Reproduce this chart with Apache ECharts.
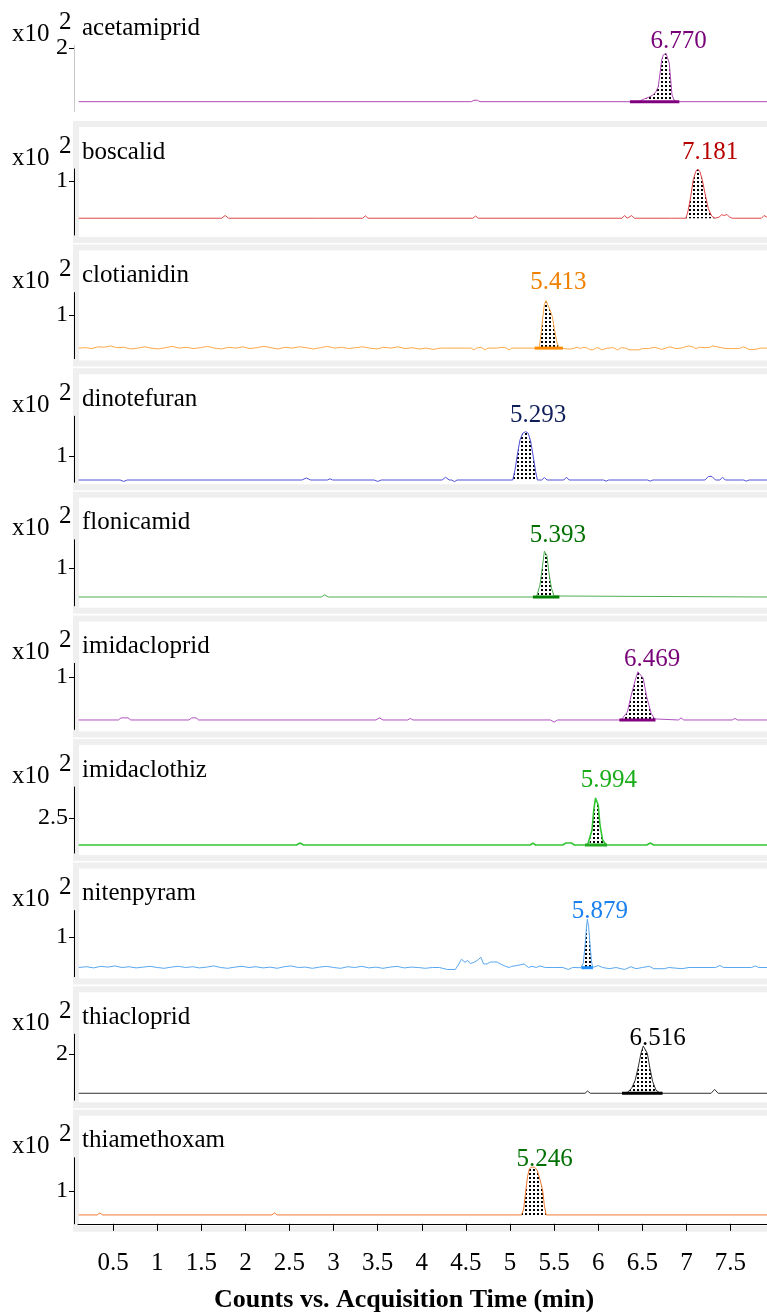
<!DOCTYPE html>
<html><head><meta charset="utf-8">
<script src="https://cdn.jsdelivr.net/npm/echarts@6/dist/echarts.min.js"></script>
<style>html,body{margin:0;padding:0;background:#fff}#c{width:767px;height:1312px}</style>
</head><body><div id="c"></div>
<script>
// ---------- data ----------
const compounds = ['acetamiprid','boscalid','clotianidin','dinotefuran','flonicamid','imidacloprid','imidaclothiz','nitenpyram','thiacloprid','thiamethoxam'];
const retentionLabels = ['6.770','7.181','5.413','5.293','5.393','6.469','5.994','5.879','6.516','5.246'];
const yTickValues = [2, 1, 1, 1, 1, 1, 2.5, 1, 2, 1];
const yAxisMax = [2.08, 1.22, 1.51, 2.52, 1.75, 1.26, 4.71, 1.67, 2.86, 2.01];
const baselines = [0.306, 0.31, 0.24, 0.084, 0.233, 0.18, 0.57, 0.225, 0.30, 0.27];
const fillStart = [6.45, 6.99, 5.33, 5.03, 5.31, 6.28, 5.90, 5.83, 6.32, 5.13];
const fillEnd   = [6.89, 7.33, 5.56, 5.31, 5.50, 6.64, 6.09, 5.94, 6.70, 5.41];
const barStart  = [6.36, null, 5.28, null, 5.26, 6.24, 5.85, 5.81, 6.27, null];
const barEnd    = [6.92, null, 5.60, null, 5.56, 6.65, 6.10, 5.94, 6.73, null];
const xTickValues = [0.5, 1, 1.5, 2, 2.5, 3, 3.5, 4, 4.5, 5, 5.5, 6, 6.5, 7, 7.5];
const xRange = [0.102, 7.914];

const acetamipridTrace = [[0.11,0.306],[4.56,0.306],[4.59,0.35],[4.63,0.35],[4.66,0.306],[6.455,0.306],[6.511,0.38],[6.568,0.44],[6.618,0.51],[6.655,0.62],[6.681,0.78],[6.701,1.20],[6.720,1.62],[6.738,1.78],[6.769,1.83],[6.788,1.80],[6.806,1.52],[6.822,0.99],[6.837,0.52],[6.859,0.36],[6.890,0.306],[7.914,0.306]];
const boscalidTrace = [[0.11,0.31],[1.73,0.31],[1.77,0.36],[1.81,0.31],[2.79,0.31],[2.81,0.345],[2.83,0.31],[3.33,0.31],[3.36,0.355],[3.39,0.31],[4.58,0.31],[4.61,0.35],[4.64,0.31],[6.27,0.31],[6.30,0.36],[6.33,0.31],[6.35,0.31],[6.38,0.36],[6.41,0.31],[6.83,0.31],[6.85,0.345],[6.87,0.31],[6.995,0.31],[7.021,0.46],[7.049,0.71],[7.078,1.02],[7.105,1.17],[7.128,1.22],[7.154,1.17],[7.180,1.02],[7.211,0.77],[7.248,0.49],[7.287,0.35],[7.324,0.31],[7.37,0.33],[7.40,0.375],[7.43,0.36],[7.46,0.38],[7.49,0.33],[7.52,0.31],[7.85,0.31],[7.88,0.36],[7.914,0.33]];
const clotianidinTrace = [[0.11,0.24],[0.19,0.25],[0.26,0.23],[0.33,0.27],[0.40,0.26],[0.47,0.29],[0.54,0.25],[0.62,0.26],[0.70,0.22],[0.78,0.24],[0.86,0.27],[0.93,0.24],[1.01,0.22],[1.09,0.25],[1.17,0.28],[1.25,0.24],[1.33,0.26],[1.41,0.23],[1.49,0.25],[1.57,0.28],[1.65,0.24],[1.73,0.22],[1.81,0.26],[1.89,0.24],[1.97,0.27],[2.05,0.23],[2.13,0.25],[2.21,0.28],[2.29,0.25],[2.37,0.22],[2.45,0.26],[2.53,0.24],[2.61,0.27],[2.69,0.25],[2.77,0.22],[2.85,0.25],[2.93,0.28],[3.01,0.24],[3.09,0.26],[3.17,0.23],[3.25,0.25],[3.33,0.27],[3.41,0.24],[3.49,0.22],[3.57,0.26],[3.65,0.24],[3.73,0.27],[3.81,0.23],[3.89,0.25],[3.97,0.22],[4.05,0.24],[4.13,0.21],[4.21,0.24],[4.33,0.24],[4.50,0.24],[4.56,0.24],[4.59,0.20],[4.62,0.24],[4.64,0.26],[4.67,0.26],[4.69,0.24],[4.72,0.20],[4.75,0.24],[4.85,0.24],[4.92,0.26],[4.96,0.24],[4.99,0.20],[5.02,0.24],[5.30,0.24],[5.332,0.26],[5.351,0.54],[5.371,0.92],[5.389,1.23],[5.408,1.33],[5.427,1.31],[5.454,1.11],[5.480,0.96],[5.502,0.69],[5.529,0.39],[5.552,0.26],[5.58,0.24],[5.65,0.22],[5.70,0.22],[5.73,0.24],[5.76,0.26],[5.80,0.23],[5.83,0.26],[5.88,0.24],[5.91,0.20],[5.94,0.20],[5.98,0.25],[6.01,0.24],[6.04,0.20],[6.10,0.24],[6.17,0.25],[6.22,0.20],[6.26,0.25],[6.31,0.24],[6.35,0.20],[6.46,0.20],[6.50,0.23],[6.57,0.23],[6.64,0.26],[6.72,0.21],[6.81,0.27],[6.88,0.23],[6.94,0.24],[6.97,0.26],[7.03,0.29],[7.08,0.26],[7.11,0.23],[7.15,0.26],[7.22,0.25],[7.27,0.26],[7.30,0.29],[7.37,0.26],[7.45,0.23],[7.52,0.23],[7.60,0.23],[7.65,0.27],[7.71,0.21],[7.78,0.21],[7.84,0.24],[7.914,0.24]];
const dinotefuranTrace = [[0.11,0.084],[0.58,0.084],[0.62,0.03],[0.66,0.084],[2.64,0.084],[2.69,0.16],[2.74,0.084],[2.93,0.084],[2.96,0.13],[2.99,0.084],[3.46,0.084],[3.50,0.03],[3.54,0.084],[4.23,0.084],[4.27,0.19],[4.31,0.084],[4.34,0.084],[4.37,0.02],[4.40,0.084],[5.031,0.084],[5.057,0.47],[5.083,1.04],[5.113,1.61],[5.144,1.87],[5.178,1.93],[5.207,1.87],[5.235,1.55],[5.264,0.97],[5.291,0.40],[5.310,0.084],[5.36,0.084],[5.39,0.18],[5.42,0.084],[5.61,0.084],[5.64,0.19],[5.67,0.084],[6.06,0.084],[6.09,0.04],[6.12,0.084],[6.56,0.084],[6.59,0.04],[6.62,0.084],[7.21,0.084],[7.25,0.22],[7.27,0.18],[7.29,0.22],[7.33,0.084],[7.38,0.084],[7.41,0.19],[7.44,0.084],[7.65,0.084],[7.68,0.04],[7.71,0.084],[7.914,0.084]];
const flonicamidTrace = [[0.11,0.233],[2.86,0.233],[2.90,0.29],[2.94,0.233],[5.30,0.233],[5.31,0.26],[5.34,0.55],[5.37,1.08],[5.39,1.45],[5.40,1.50],[5.42,1.32],[5.44,0.89],[5.47,0.47],[5.50,0.26],[5.52,0.233],[7.914,0.233]];
const imidaclopridTrace = [[0.11,0.18],[0.56,0.18],[0.59,0.22],[0.67,0.22],[0.70,0.18],[1.36,0.18],[1.39,0.22],[1.44,0.22],[1.47,0.18],[3.48,0.18],[3.52,0.22],[3.56,0.18],[3.84,0.18],[3.87,0.21],[3.90,0.18],[5.46,0.18],[5.50,0.14],[5.54,0.18],[6.26,0.18],[6.28,0.20],[6.33,0.33],[6.37,0.62],[6.42,0.94],[6.45,1.10],[6.47,1.11],[6.51,0.98],[6.55,0.62],[6.60,0.31],[6.64,0.20],[6.66,0.18],[6.91,0.18],[6.94,0.22],[6.97,0.18],[7.52,0.18],[7.55,0.21],[7.58,0.18],[7.914,0.18]];
const imidaclothizTrace = [[0.11,0.57],[2.58,0.57],[2.62,0.71],[2.66,0.57],[5.23,0.57],[5.26,0.71],[5.29,0.57],[5.60,0.57],[5.63,0.71],[5.70,0.71],[5.73,0.57],[5.88,0.57],[5.90,0.64],[5.93,1.64],[5.95,3.07],[5.97,3.93],[5.98,4.0],[6.00,3.43],[6.02,2.0],[6.05,0.93],[6.09,0.57],[6.55,0.57],[6.59,0.71],[6.63,0.57],[7.914,0.57]];
const nitenpyramTrace = [[0.11,0.23],[0.2,0.25],[0.28,0.22],[0.36,0.26],[0.44,0.24],[0.52,0.27],[0.6,0.23],[0.68,0.25],[0.76,0.22],[0.84,0.24],[0.92,0.26],[1.0,0.23],[1.08,0.21],[1.16,0.24],[1.24,0.26],[1.32,0.23],[1.4,0.25],[1.48,0.22],[1.56,0.24],[1.64,0.27],[1.72,0.23],[1.8,0.21],[1.88,0.24],[1.96,0.26],[2.04,0.23],[2.12,0.25],[2.2,0.22],[2.28,0.24],[2.36,0.21],[2.44,0.25],[2.52,0.27],[2.6,0.23],[2.68,0.24],[2.76,0.21],[2.84,0.24],[2.92,0.26],[3.0,0.23],[3.08,0.21],[3.16,0.25],[3.24,0.23],[3.32,0.26],[3.40,0.22],[3.48,0.24],[3.56,0.21],[3.64,0.24],[3.72,0.26],[3.8,0.22],[3.88,0.24],[3.96,0.23],[4.04,0.21],[4.12,0.23],[4.20,0.23],[4.29,0.18],[4.38,0.18],[4.42,0.32],[4.45,0.44],[4.49,0.36],[4.52,0.41],[4.55,0.33],[4.59,0.36],[4.63,0.41],[4.67,0.49],[4.70,0.32],[4.74,0.32],[4.78,0.37],[4.85,0.37],[4.91,0.30],[4.95,0.26],[4.99,0.23],[5.02,0.26],[5.08,0.28],[5.16,0.32],[5.21,0.23],[5.25,0.26],[5.30,0.23],[5.34,0.27],[5.40,0.23],[5.49,0.23],[5.60,0.23],[5.66,0.18],[5.71,0.23],[5.805,0.225],[5.831,0.34],[5.850,0.76],[5.865,1.18],[5.877,1.45],[5.892,1.26],[5.907,0.84],[5.922,0.42],[5.937,0.23],[6.0,0.28],[6.05,0.23],[6.13,0.20],[6.20,0.23],[6.30,0.18],[6.37,0.25],[6.43,0.20],[6.50,0.23],[6.58,0.26],[6.63,0.20],[6.75,0.20],[6.80,0.23],[6.95,0.20],[7.03,0.23],[7.33,0.23],[7.38,0.28],[7.42,0.23],[7.74,0.23],[7.78,0.27],[7.82,0.23],[7.914,0.23]];
const thiaclopridTrace = [[0.11,0.30],[5.85,0.30],[5.88,0.40],[5.91,0.30],[6.32,0.30],[6.38,0.52],[6.42,0.87],[6.455,1.45],[6.485,2.03],[6.511,2.35],[6.531,2.36],[6.557,2.03],[6.587,1.38],[6.618,0.80],[6.655,0.44],[6.70,0.30],[7.28,0.30],[7.32,0.47],[7.36,0.30],[7.914,0.30]];
const thiamethoxamTrace = [[0.11,0.27],[0.32,0.27],[0.35,0.33],[0.38,0.27],[2.30,0.27],[2.33,0.33],[2.36,0.27],[5.13,0.27],[5.155,0.45],[5.18,1.03],[5.20,1.45],[5.22,1.68],[5.25,1.73],[5.28,1.72],[5.31,1.62],[5.34,1.35],[5.37,1.03],[5.39,0.55],[5.41,0.27],[7.914,0.27]];
const traces = [acetamipridTrace, boscalidTrace, clotianidinTrace, dinotefuranTrace, flonicamidTrace, imidaclopridTrace, imidaclothizTrace, nitenpyramTrace, thiaclopridTrace, thiamethoxamTrace];

// ---------- styles / layout ----------
const lineColors  = ['#b04cb8','#e04848','#ffa84a','#5050d8','#4caf50','#b050c0','#33c633','#5aa8f0','#333333','#f07a30'];
const labelColors = ['#780078','#b80000','#f08000','#101f5a','#007000','#780078','#1aad1a','#1a80f0','#000000','#007000'];
const barColors   = ['#800080',null,'#ff8c00',null,'#008000','#800080','#22aa22','#1e90ff','#000000',null];
const lineWidths  = [1,1,1,1,1,1,1.6,1,1,1];
const labelGaps   = [4, 9, 10, 9, 6, 4, 9, 0, 0, 0];
const PANEL0 = -2.6, STEP = 123.6, GTOP = 48, GH = 66, GLEFT = 78;
const FONT = '"Liberation Serif", "Times New Roman", serif';

const pc = document.createElement('canvas');
pc.width = 4; pc.height = 4;
const pctx = pc.getContext('2d');
pctx.fillStyle = '#000';
pctx.fillRect(1, 1, 2, 2);
const dotPattern = { image: pc, repeat: 'repeat' };

const n = compounds.length;
const grids = [], xAxes = [], yAxes = [], series = [], graphics = [];
for (let i = 0; i < n; i++) {
  const T = PANEL0 + STEP * i;
  grids.push({ left: GLEFT, right: 0, top: T + GTOP, height: GH, containLabel: false });
  const last = i === n - 1;
  xAxes.push({
    type: 'value', gridIndex: i, min: xRange[0], max: xRange[1], show: last,
    offset: 12, splitLine: { show: false },
    axisLine: { show: true, lineStyle: { color: '#000', width: 1 } },
    axisTick: { show: true, length: 7, customValues: xTickValues, lineStyle: { color: '#000' } },
    axisLabel: { show: true, customValues: xTickValues, margin: 15, color: '#000', fontSize: 25, fontFamily: FONT }
  });
  yAxes.push({
    type: 'value', gridIndex: i, min: 0, max: yAxisMax[i], offset: 4, z: 10,
    splitLine: { show: false },
    axisLine: { show: true, lineStyle: { color: i === 0 ? '#c8c8c8' : '#000', width: 1 } },
    axisTick: { show: true, length: 5, customValues: [yTickValues[i]], lineStyle: { color: '#000' } },
    axisLabel: { show: true, customValues: [yTickValues[i]], margin: 6, color: '#000', fontSize: 24, fontFamily: FONT }
  });
  const tr = traces[i];
  const fill = tr.filter(p => p[0] >= fillStart[i] - 1e-9 && p[0] <= fillEnd[i] + 1e-9);
  series.push({
    type: 'line', xAxisIndex: i, yAxisIndex: i, data: fill, symbol: 'none', z: 2, silent: true,
    lineStyle: { width: 0 }, areaStyle: { color: dotPattern, opacity: 1, origin: baselines[i] }, animation: false
  });
  series.push({
    type: 'line', xAxisIndex: i, yAxisIndex: i, data: tr, symbol: 'none', z: 3, silent: true,
    lineStyle: { color: lineColors[i], width: lineWidths[i] }, animation: false
  });
  if (barStart[i] !== null) {
    series.push({
      type: 'line', xAxisIndex: i, yAxisIndex: i, symbol: 'none', z: 4, silent: true,
      data: [[barStart[i], baselines[i]], [barEnd[i], baselines[i]]],
      lineStyle: { color: barColors[i], width: 3 }, animation: false
    });
  }
  let apex = tr[0];
  tr.forEach(p => { if (p[1] > apex[1]) apex = p; });
  series.push({
    type: 'scatter', xAxisIndex: i, yAxisIndex: i, data: [apex], symbolSize: 0, z: 5, silent: true,
    itemStyle: { opacity: 1 },
    label: { show: true, position: 'top', distance: 0, offset: [12.5, 4.9 - labelGaps[i]], opacity: 1,
      textBorderWidth: 0, formatter: retentionLabels[i], color: labelColors[i], fontSize: 25, fontFamily: FONT },
    animation: false
  });
  if (i > 0) {
    graphics.push({ type: 'rect', z: 0, silent: true,
      shape: { x: 76, y: T + 3, width: 800, height: 116 },
      style: { fill: 'none', stroke: '#efefef', lineWidth: 6 } });
  }
  graphics.push({ type: 'text', x: 82, y: T + 31, z: 20, silent: true,
    style: { text: compounds[i], font: '25px ' + FONT, fill: '#000', align: 'left', verticalAlign: 'middle' } });
  graphics.push({ type: 'text', x: 12, y: T + 37, z: 20, silent: true,
    style: { text: 'x10', font: '25px ' + FONT, fill: '#000', align: 'left', verticalAlign: 'middle' } });
  graphics.push({ type: 'text', x: 59, y: T + 25, z: 20, silent: true,
    style: { text: '2', font: '25px ' + FONT, fill: '#000', align: 'left', verticalAlign: 'middle' } });
}
graphics.push({ type: 'text', x: 404, y: 1300, z: 20, silent: true,
  style: { text: 'Counts vs. Acquisition Time (min)', font: 'bold 26px ' + FONT, fill: '#000', align: 'center', verticalAlign: 'middle' } });

const chart = echarts.init(document.getElementById('c'), null, { renderer: 'canvas' });
chart.setOption({
  backgroundColor: '#fff',
  animation: false,
  grid: grids, xAxis: xAxes, yAxis: yAxes, series: series,
  graphic: { elements: graphics }
});
</script></body></html>
